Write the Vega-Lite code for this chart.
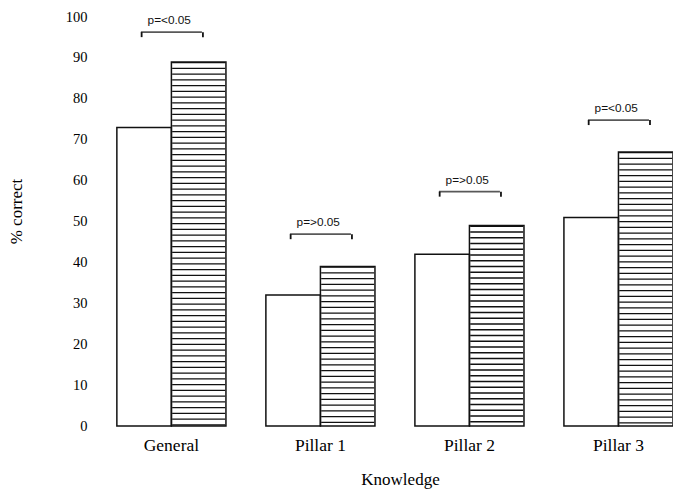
{
  "$schema": "https://vega.github.io/schema/vega-lite/v6.json",
  "width": 577,
  "height": 409,
  "autosize": "none",
  "padding": {"left": 96, "top": 17, "right": 0, "bottom": 63},
  "background": "white",
  "config": {"view": {"stroke": null}},
  "datasets": {
    "bars": [
      {"k": "General", "series": "pre", "value": 73},
      {"k": "General", "series": "post", "value": 89},
      {"k": "Pillar 1", "series": "pre", "value": 32},
      {"k": "Pillar 1", "series": "post", "value": 39},
      {"k": "Pillar 2", "series": "pre", "value": 42},
      {"k": "Pillar 2", "series": "post", "value": 49},
      {"k": "Pillar 3", "series": "pre", "value": 51},
      {"k": "Pillar 3", "series": "post", "value": 67}
    ],
    "sig": [
      {"k": "General", "p": "p=<0.05", "bracket": 96.3},
      {"k": "Pillar 1", "p": "p=>0.05", "bracket": 46.9},
      {"k": "Pillar 2", "p": "p=>0.05", "bracket": 57.3},
      {"k": "Pillar 3", "p": "p=<0.05", "bracket": 74.8}
    ]
  },
  "encoding": {
    "x": {
      "field": "k",
      "type": "nominal",
      "sort": ["General", "Pillar 1", "Pillar 2", "Pillar 3"],
      "scale": {"paddingInner": 0.268, "paddingOuter": 0.07, "align": 1},
      "axis": {
        "title": "Knowledge",
        "labelAngle": 0,
        "domain": false,
        "ticks": false,
        "labelPadding": 10,
        "labelFont": "Liberation Serif",
        "labelFontSize": 17.5,
        "labelColor": "#000",
        "titleFont": "Liberation Serif",
        "titleFontSize": 17,
        "titleFontWeight": "normal",
        "titleColor": "#000",
        "titlePadding": 18,
        "titleX": 304
      }
    }
  },
  "layer": [
    {
      "data": {"name": "bars"},
      "mark": {"type": "bar", "fill": "white", "stroke": null},
      "encoding": {
        "xOffset": {"field": "series", "type": "nominal", "sort": ["pre", "post"]},
        "y": {
          "field": "value",
          "type": "quantitative",
          "scale": {"domain": [0, 100], "nice": false},
          "axis": {
            "title": "% correct",
            "values": [0, 10, 20, 30, 40, 50, 60, 70, 80, 90, 100],
            "domain": false,
            "ticks": false,
            "grid": false,
            "labelPadding": 9,
            "labelFont": "Liberation Serif",
            "labelFontSize": 14.5,
            "labelColor": "#000",
            "titleFont": "Liberation Serif",
            "titleFontSize": 17,
            "titleFontWeight": "normal",
            "titleColor": "#000",
            "titlePadding": 40,
            "titleY": 194
          }
        }
      }
    },
    {
      "data": {"name": "bars"},
      "transform": [{"filter": "datum.series === 'post'"}],
      "mark": {"type": "rule", "color": "#111", "strokeWidth": 53, "strokeDash": [1.3, 4.45], "strokeCap": "butt"},
      "encoding": {
        "x": {"field": "k", "type": "nominal", "bandPosition": 0.75},
        "y": {"field": "value", "type": "quantitative"},
        "y2": {"datum": 0}
      }
    },
    {
      "data": {"name": "bars"},
      "mark": {"type": "bar", "fill": null, "fillOpacity": 0, "stroke": "#111", "strokeWidth": 1.5},
      "encoding": {
        "xOffset": {"field": "series", "type": "nominal", "sort": ["pre", "post"]},
        "y": {"field": "value", "type": "quantitative"}
      }
    },
    {
      "data": {"name": "sig"},
      "mark": {"type": "tick", "orient": "horizontal", "size": 61, "thickness": 1.8, "color": "#111"},
      "encoding": {
        "x": {"field": "k", "type": "nominal"},
        "y": {"field": "bracket", "type": "quantitative"}
      }
    },
    {
      "data": {"name": "sig"},
      "mark": {"type": "rule", "color": "#111", "strokeWidth": 1.8, "y2Offset": 5},
      "encoding": {
        "x": {"field": "k", "type": "nominal", "bandPosition": 0.227},
        "y": {"field": "bracket", "type": "quantitative"},
        "y2": {"field": "bracket"}
      }
    },
    {
      "data": {"name": "sig"},
      "mark": {"type": "rule", "color": "#111", "strokeWidth": 1.8, "y2Offset": 5},
      "encoding": {
        "x": {"field": "k", "type": "nominal", "bandPosition": 0.789},
        "y": {"field": "bracket", "type": "quantitative"},
        "y2": {"field": "bracket"}
      }
    },
    {
      "data": {"name": "sig"},
      "mark": {"type": "text", "font": "Liberation Sans", "fontSize": 11.8, "color": "#111", "dy": -12, "baseline": "middle"},
      "encoding": {
        "x": {"field": "k", "type": "nominal", "bandPosition": 0.48},
        "y": {"field": "bracket", "type": "quantitative"},
        "text": {"field": "p"}
      }
    }
  ]
}
